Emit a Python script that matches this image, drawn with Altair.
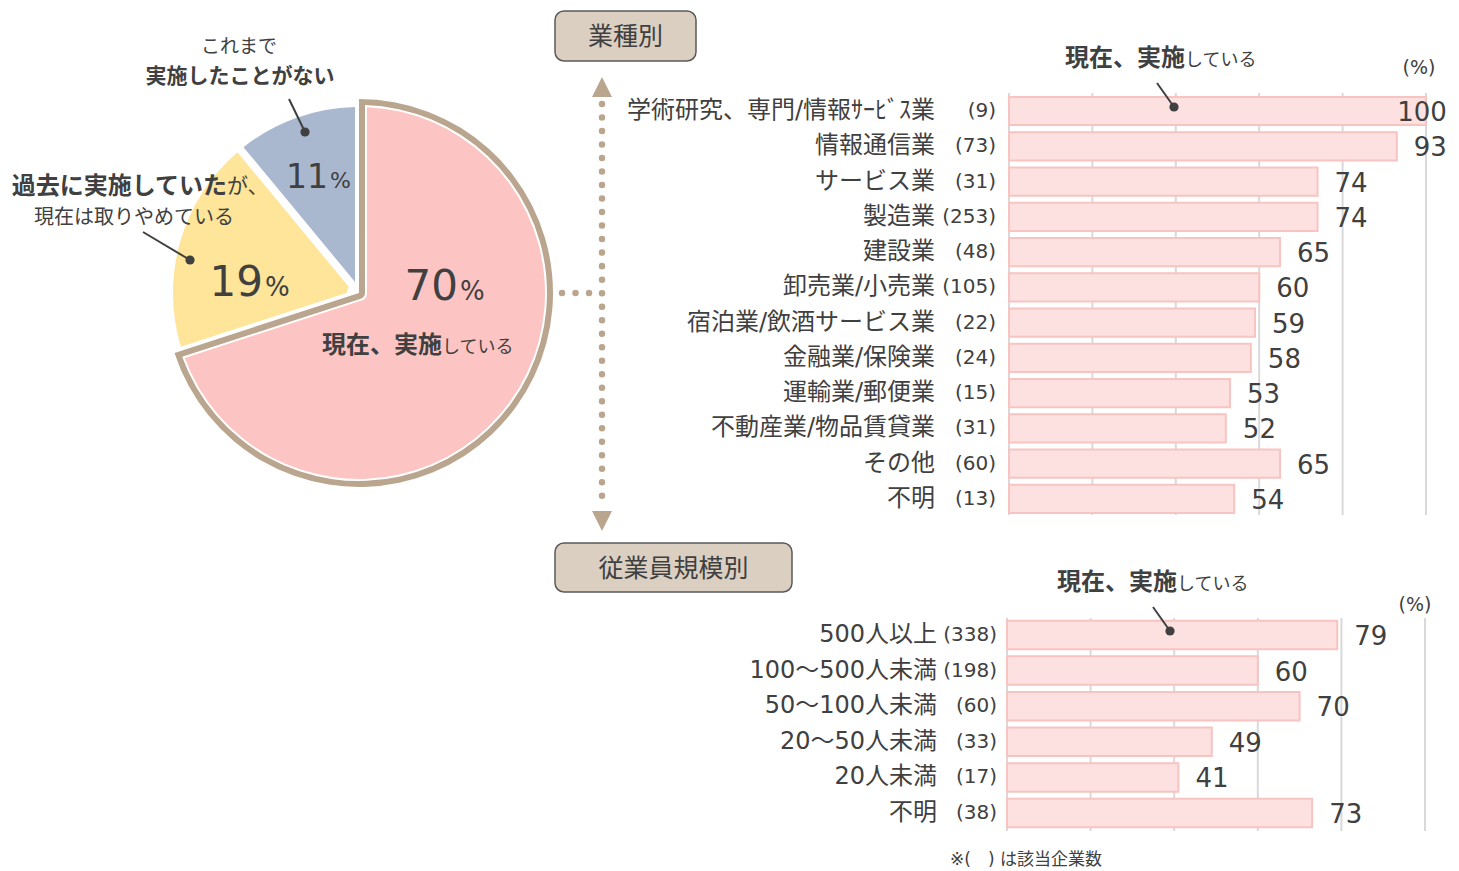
import math
import altair as alt
import pandas as pd

# ---------------- data ----------------
pie_labels = ["現在、実施している", "過去に実施していたが、現在は取りやめている", "これまで実施したことがない"]
pie_values = [70, 19, 11]

industries = ["学術研究、専門/情報ｻｰﾋﾞｽ業", "情報通信業", "サービス業", "製造業", "建設業",
              "卸売業/小売業", "宿泊業/飲酒サービス業", "金融業/保険業", "運輸業/郵便業",
              "不動産業/物品賃貸業", "その他", "不明"]
industry_counts = ["(9)", "(73)", "(31)", "(253)", "(48)", "(105)", "(22)", "(24)", "(15)", "(31)", "(60)", "(13)"]
industry_values = [100, 93, 74, 74, 65, 60, 59, 58, 53, 52, 65, 54]

sizes = ["500人以上", "100～500人未満", "50～100人未満", "20～50人未満", "20人未満", "不明"]
size_counts = ["(338)", "(198)", "(60)", "(33)", "(17)", "(38)"]
size_values = [79, 60, 70, 49, 41, 73]

grid_ticks = [0, 20, 40, 60, 80, 100]

# ---------------- styles ----------------
W, H = 1443, 860
TXT = "#404040"
TAN = "#baa68f"
GRID = "#d9d9d9"
BAR_FILL = "#fde1e1"
BAR_STROKE = "#f8c4c1"
BOX_FILL = "#dbcfc1"
CJK = "Noto Sans CJK JP"
MIX = "DejaVu Sans, Noto Sans CJK JP"
NUM = "DejaVu Sans"
pie_palette = ["#fcc5c3", "#fee59a", "#a9b8cf"]

one = pd.DataFrame({"a": [0]})


def txt(s, x, y, size, weight="normal", align="center", baseline="middle", font=CJK, color=TXT):
    return alt.Chart(pd.DataFrame({"t": [s]})).mark_text(
        align=align, baseline=baseline, fontSize=size, fontWeight=weight, font=font, color=color
    ).encode(x=alt.value(x), y=alt.value(y), text="t:N")


def leader(x1, y1, x2, y2):
    line = alt.Chart(one).mark_rule(color=TXT, strokeWidth=2).encode(
        x=alt.value(x1), y=alt.value(y1), x2=alt.value(x2), y2=alt.value(y2))
    dot = alt.Chart(one).mark_circle(color=TXT, opacity=1, size=85).encode(
        x=alt.value(x2), y=alt.value(y2))
    return [line, dot]


layers = []

# ---------------- pie ----------------
CX, CY = 351, 285
pie_df = pd.DataFrame({"label": pie_labels, "v": pie_values, "idx": list(range(len(pie_values)))})
theta_scale = alt.Scale(domain=[0, 100], range=[0, 2 * math.pi])
color_scale = alt.Scale(domain=pie_labels, range=pie_palette)
pie_base = alt.Chart(pie_df).transform_window(
    end="sum(v)", sort=[alt.SortField("idx")], frame=[None, 0]
).transform_calculate(start="datum.end - datum.v").encode(
    theta=alt.Theta("start:Q", scale=theta_scale),
    theta2="end:Q",
    x=alt.value(CX), y=alt.value(CY),
)
pink_base = pie_base.transform_filter("datum.idx == 0")
rest_base = pie_base.transform_filter("datum.idx > 0")


def pad_for(r_out, r_in, offset):
    rp = math.sqrt(r_in * r_in + r_out * r_out)
    return 2 * math.asin(offset / rp)


R_T = 194
# inner radius just below the offset so the padded corner collapses to a sharp point
r0w = 5.99
r0p = 7.99
pw = pad_for(R_T - 6, r0w, 6)
pp = pad_for(R_T - 8, r0p, 8)
r0r = 12
pr = pad_for(186, r0r, 4)

layers.append(pink_base.mark_arc(radius=R_T, fill=TAN))
layers.append(pink_base.mark_arc(radius=R_T - 6, innerRadius=r0w, padAngle=pw, fill="white"))
layers.append(pink_base.mark_arc(radius=R_T - 8, innerRadius=r0p, padAngle=pp).encode(
    color=alt.Color("label:N", scale=color_scale, legend=None)))
layers.append(rest_base.mark_arc(radius=186, innerRadius=r0r, padAngle=pr).encode(
    color=alt.Color("label:N", scale=color_scale, legend=None)))

# pie annotations
layers.append(txt("これまで", 231, 39, 19))
layers.append(txt("実施したことがない", 232, 69, 21, "bold"))
layers += leader(281, 91, 297, 124)
layers.append(txt("11", 320, 180, 33, align="right", baseline="alphabetic", font=NUM))
layers.append(txt("%", 322, 180, 22, align="left", baseline="alphabetic", font=NUM))

layers.append(txt("過去に実施していた", 219, 179, 24, "bold", align="right"))
layers.append(txt("が、", 219, 179, 21, align="left"))
layers.append(txt("現在は取りやめている", 126, 210, 20))
layers += leader(135, 224, 182, 252)
layers.append(txt("19", 255, 288, 42, align="right", baseline="alphabetic", font=NUM))
layers.append(txt("%", 257, 288, 26, align="left", baseline="alphabetic", font=NUM))

layers.append(txt("70", 450, 292, 42, align="right", baseline="alphabetic", font=NUM))
layers.append(txt("%", 452, 292, 26, align="left", baseline="alphabetic", font=NUM))
layers.append(txt("現在、実施", 434, 345, 24, "bold", align="right", baseline="alphabetic"))
layers.append(txt("している", 434, 345, 18, align="left", baseline="alphabetic"))

# ---------------- connector ----------------
layers.append(alt.Chart(one).mark_rule(color=TAN, strokeWidth=6.5, strokeCap="round",
                                       strokeDash=[0.01, 13.5]).encode(
    x=alt.value(594), y=alt.value(96), y2=alt.value(490)))
layers.append(alt.Chart(one).mark_rule(color=TAN, strokeWidth=6.5, strokeCap="round",
                                       strokeDash=[0.01, 13.5]).encode(
    x=alt.value(554), x2=alt.value(583), y=alt.value(285)))
layers.append(alt.Chart(one).mark_point(shape="M0,-1L1,1L-1,1Z", size=400, filled=True,
                                        color=TAN, opacity=1).encode(
    x=alt.value(594), y=alt.value(79)))
layers.append(alt.Chart(one).mark_point(shape="M-1,-1L1,-1L0,1Z", size=400, filled=True,
                                        color=TAN, opacity=1).encode(
    x=alt.value(594), y=alt.value(513)))

# ---------------- section boxes ----------------
def box(label, x1, y1, x2, y2):
    r = alt.Chart(one).mark_rect(fill=BOX_FILL, stroke="#5a5a5a", strokeWidth=1.5,
                                 cornerRadius=9).encode(
        x=alt.value(x1), x2=alt.value(x2), y=alt.value(y1), y2=alt.value(y2))
    return [r, txt(label, (x1 + x2) / 2, (y1 + y2) / 2 + 1, 25)]


layers += box("業種別", 547, 3, 688, 53)
layers += box("従業員規模別", 547, 535, 784, 584)


# ---------------- bar charts ----------------
def bar_block(names, counts, values, x_rng, first_c, step, grid_y, name_x, count_x):
    df = pd.DataFrame({"name": names, "cnt": counts, "v": values})
    n = len(names)
    xs = alt.Scale(domain=[0, 100], range=x_rng, nice=False)
    ys = alt.Scale(domain=names, range=[first_c - step / 2, first_c + (n - 0.5) * step],
                   paddingInner=0.2, paddingOuter=0.1)
    gdf = pd.DataFrame({"g": grid_ticks})
    out = []
    out.append(alt.Chart(gdf).mark_rule(color=GRID, strokeWidth=2).encode(
        x=alt.X("g:Q", scale=xs, axis=None), y=alt.value(grid_y[0]), y2=alt.value(grid_y[1])))
    out.append(alt.Chart(df).mark_bar(fill=BAR_FILL, stroke=BAR_STROKE, strokeWidth=2).encode(
        x=alt.X("v:Q", scale=xs, axis=None),
        y=alt.Y("name:N", scale=ys, axis=None, sort=None)))
    out.append(alt.Chart(df).transform_calculate(lx="datum.v >= 100 ? 89 : datum.v").mark_text(
        align="left", baseline="middle", dx=17, dy=2, fontSize=26, font=NUM, color=TXT).encode(
        x=alt.X("lx:Q", scale=xs, axis=None),
        y=alt.Y("name:N", scale=ys, axis=None, sort=None), text="v:Q"))
    out.append(alt.Chart(df).mark_text(align="right", baseline="middle", fontSize=24, font=MIX,
                                       color=TXT).encode(
        x=alt.value(name_x), y=alt.Y("name:N", scale=ys, axis=None, sort=None), text="name:N"))
    out.append(alt.Chart(df).mark_text(align="right", baseline="middle", fontSize=20, font=MIX,
                                       color=TXT).encode(
        x=alt.value(count_x), y=alt.Y("name:N", scale=ys, axis=None, sort=None), text="cnt:N"))
    return out


layers += bar_block(industries, industry_counts, industry_values, [1001, 1418], 103, 35.27,
                    (85, 507), 927, 988)
layers += bar_block(sizes, size_counts, size_values, [999, 1417], 627, 35.6,
                    (610, 823), 929, 989)

# bar annotations
layers.append(txt("現在、実施", 1177, 58, 24, "bold", align="right", baseline="alphabetic"))
layers.append(txt("している", 1177, 58, 18, align="left", baseline="alphabetic"))
layers += leader(1149, 75, 1166, 99)
layers.append(txt("(%)", 1411, 60, 19, font=MIX))

layers.append(txt("現在、実施", 1169, 582, 24, "bold", align="right", baseline="alphabetic"))
layers.append(txt("している", 1169, 582, 18, align="left", baseline="alphabetic"))
layers += leader(1145, 599, 1162, 623)
layers.append(txt("(%)", 1407, 597, 19, font=MIX))

layers.append(txt("※(　) は該当企業数", 1018, 852, 17, font=MIX))

chart = alt.layer(*layers).resolve_scale(x="independent", y="independent").properties(
    width=W, height=H, autosize=alt.AutoSizeParams(type="none"), padding=0
).configure_view(stroke=None)

chart.save("out.html", embed_options={"renderer": "svg", "actions": False})
